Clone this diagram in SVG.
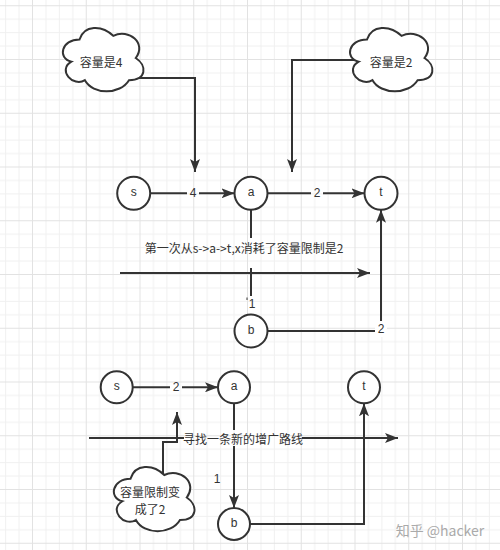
<svg xmlns="http://www.w3.org/2000/svg" width="500" height="550" viewBox="0 0 500 550">
<style>
.edge{fill:none;stroke:#333;stroke-width:2}
.arr{marker-end:url(#ah)}
.node{fill:#fff;stroke:#333;stroke-width:2}
.cloud{fill:#fff;stroke:#333;stroke-width:2}
.lbl{font-family:"Liberation Sans","Noto Sans CJK SC",sans-serif;font-size:12px;fill:#333;text-anchor:middle;dominant-baseline:central}
.cjk{font-family:"Noto Sans CJK SC","Liberation Sans",sans-serif;font-size:12px;fill:#333;text-anchor:middle;dominant-baseline:central}
.bg{fill:#fff}
</style>
<defs>
<pattern id="grid" patternUnits="userSpaceOnUse" x="32" y="5.25" width="53.75" height="53.75">
<rect x="13.44" y="0" width="1" height="53.75" fill="#f0f0f0"/>
<rect x="26.88" y="0" width="1" height="53.75" fill="#f0f0f0"/>
<rect x="40.31" y="0" width="1" height="53.75" fill="#f0f0f0"/>
<rect x="0" y="13.44" width="53.75" height="1" fill="#f0f0f0"/>
<rect x="0" y="26.88" width="53.75" height="1" fill="#f0f0f0"/>
<rect x="0" y="40.31" width="53.75" height="1" fill="#f0f0f0"/>
<rect x="0" y="0" width="1" height="53.75" fill="#e2e2e2"/>
<rect x="0" y="0" width="53.75" height="1" fill="#e2e2e2"/>
</pattern>
<marker id="ah" markerUnits="userSpaceOnUse" markerWidth="13" markerHeight="10" refX="13" refY="5" orient="auto">
<path d="M0,0 L13,5 L0,10 L3,5 Z" fill="#333"/>
</marker>
</defs>
<rect width="500" height="550" fill="#fff"/>
<rect width="500" height="550" fill="url(#grid)"/>

<g id="connectors">
<path class="edge arr" d="M130 78 H195 V172"/>
<path class="edge arr" d="M365 60 H292 V172"/>
<path class="edge" d="M150.2 193.3 H187"/>
<path class="edge arr" d="M199 193.3 H234.5"/>
<path class="edge" d="M267.5 193.3 H311"/>
<path class="edge arr" d="M323 193.3 H364.5"/>
<path class="edge" d="M251 209.8 V238"/>
<path class="edge" d="M251 268 V296"/>
<path class="edge" d="M247 297.5 V300" style="stroke-width:1"/>
<path class="edge arr" d="M120 273 H370"/>
<path class="edge arr" d="M267.5 331 H381 V209.8"/>
<rect class="bg" x="375" y="321" width="12" height="16"/>
<text class="lbl" x="193" y="193.3">4</text>
<text class="lbl" x="317" y="193.3">2</text>
<text class="lbl" x="381" y="329">2</text>
<text class="lbl" x="252" y="304">1</text>
<text class="cjk" x="244" y="247">第一次从s-&gt;a-&gt;t,x消耗了容量限制是2</text>
<path class="edge" d="M132.7 387.3 H170"/>
<path class="edge arr" d="M182 387.3 H218"/>
<path class="edge" d="M234 403.3 V430"/>
<path class="edge arr" d="M234 446 V508"/>
<path class="edge arr" d="M250 524 H364 V403.3"/>
<path class="edge" d="M89 438 H184"/>
<path class="edge arr" d="M302 438 H398"/>
<path class="edge arr" d="M163 475 V442 H177 V412"/>
<text class="lbl" x="176" y="387.3">2</text>
<text class="lbl" x="217" y="479">1</text>
<text class="cjk" x="243" y="438">寻找一条新的增广路线</text>
</g>

<g id="cloud-cap4">
<path class="cloud" vector-effect="non-scaling-stroke" transform="translate(57,21) scale(0.9,0.74)" d="M25 25 C5 25 0 50 16 55 C0 66 18 90 31 80 C40 100 70 100 80 80 C100 80 100 60 87.5 50 C100 30 80 10 62.5 20 C50 5 30 5 25 25 Z"/>
<text class="cjk" x="101" y="61">容量是4</text>
</g>
<g id="cloud-cap2">
<path class="cloud" vector-effect="non-scaling-stroke" transform="translate(344,21) scale(0.92,0.74)" d="M25 25 C5 25 0 50 16 55 C0 66 18 90 31 80 C40 100 70 100 80 80 C100 80 100 60 87.5 50 C100 30 80 10 62.5 20 C50 5 30 5 25 25 Z"/>
<text class="cjk" x="391" y="61">容量是2</text>
</g>
<g id="cloud-cap-changed">
<path class="cloud" vector-effect="non-scaling-stroke" transform="translate(108,460) scale(0.9,0.75)" d="M25 25 C5 25 0 50 16 55 C0 66 18 90 31 80 C40 100 70 100 80 80 C100 80 100 60 87.5 50 C100 30 80 10 62.5 20 C50 5 30 5 25 25 Z"/>
<text class="cjk" x="150" y="491">容量限制变</text>
<text class="cjk" x="150" y="508">成了2</text>
</g>

<g id="node-s1"><circle class="node" cx="133.7" cy="193.3" r="16.5"/><text class="lbl" x="133.7" y="192">s</text></g>
<g id="node-a1"><circle class="node" cx="251" cy="193.3" r="16.5"/><text class="lbl" x="251" y="192">a</text></g>
<g id="node-t1"><circle class="node" cx="381" cy="193.3" r="16.5"/><text class="lbl" x="381" y="192">t</text></g>
<g id="node-b1"><circle class="node" cx="251" cy="331" r="16.5"/><text class="lbl" x="251" y="330">b</text></g>

<g id="node-s2"><circle class="node" cx="116.7" cy="387.3" r="16"/><text class="lbl" x="116.7" y="386">s</text></g>
<g id="node-a2"><circle class="node" cx="234" cy="387.3" r="16"/><text class="lbl" x="234" y="386">a</text></g>
<g id="node-t2"><circle class="node" cx="364" cy="387.3" r="16"/><text class="lbl" x="364" y="386">t</text></g>
<g id="node-b2"><circle class="node" cx="234" cy="524" r="16"/><text class="lbl" x="234" y="523">b</text></g>

<text x="440" y="530" style="font-family:'Noto Sans CJK SC','Liberation Sans',sans-serif;font-size:14px;fill:#aaa;text-anchor:middle;dominant-baseline:central">知乎 @hacker</text>
</svg>
